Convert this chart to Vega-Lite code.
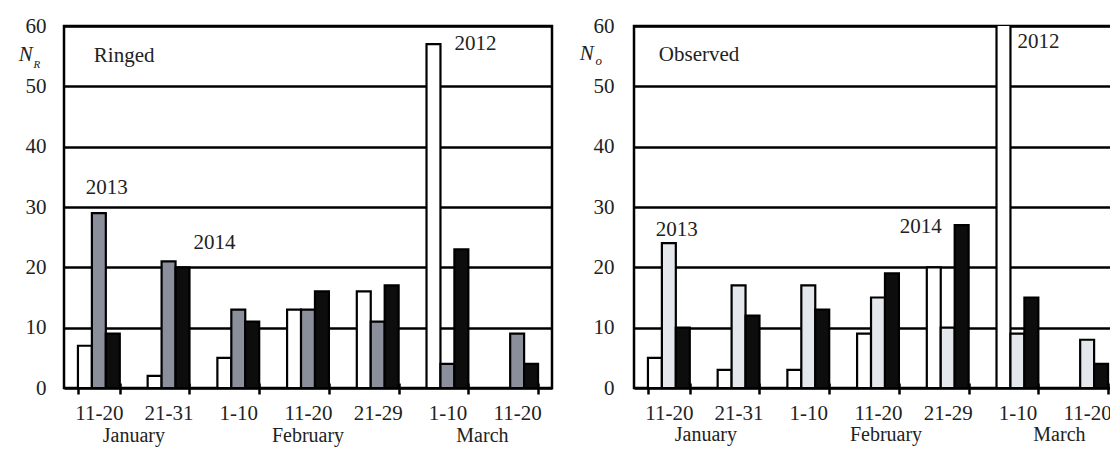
{
  "$schema": "https://vega.github.io/schema/vega-lite/v6.json",
  "background": "#ffffff",
  "padding": {"left": 17, "top": 13, "right": 0, "bottom": 0},
  "bounds": "flush",
  "spacing": 82,
  "config": {
    "view": {"stroke": "#000000", "strokeWidth": 2.5},
    "text": {"font": "Liberation Serif", "fontSize": 21, "fontWeight": "normal", "fill": "#222222"}
  },
  "datasets": {
    "counts": [
      {"panel": "Ringed", "period": "Jan 11-20", "year": 2012, "n": 7},
      {"panel": "Ringed", "period": "Jan 11-20", "year": 2013, "n": 29},
      {"panel": "Ringed", "period": "Jan 11-20", "year": 2014, "n": 9},
      {"panel": "Ringed", "period": "Jan 21-31", "year": 2012, "n": 2},
      {"panel": "Ringed", "period": "Jan 21-31", "year": 2013, "n": 21},
      {"panel": "Ringed", "period": "Jan 21-31", "year": 2014, "n": 20},
      {"panel": "Ringed", "period": "Feb 1-10", "year": 2012, "n": 5},
      {"panel": "Ringed", "period": "Feb 1-10", "year": 2013, "n": 13},
      {"panel": "Ringed", "period": "Feb 1-10", "year": 2014, "n": 11},
      {"panel": "Ringed", "period": "Feb 11-20", "year": 2012, "n": 13},
      {"panel": "Ringed", "period": "Feb 11-20", "year": 2013, "n": 13},
      {"panel": "Ringed", "period": "Feb 11-20", "year": 2014, "n": 16},
      {"panel": "Ringed", "period": "Feb 21-29", "year": 2012, "n": 16},
      {"panel": "Ringed", "period": "Feb 21-29", "year": 2013, "n": 11},
      {"panel": "Ringed", "period": "Feb 21-29", "year": 2014, "n": 17},
      {"panel": "Ringed", "period": "Mar 1-10", "year": 2012, "n": 57},
      {"panel": "Ringed", "period": "Mar 1-10", "year": 2013, "n": 4},
      {"panel": "Ringed", "period": "Mar 1-10", "year": 2014, "n": 23},
      {"panel": "Ringed", "period": "Mar 11-20", "year": 2012, "n": 0},
      {"panel": "Ringed", "period": "Mar 11-20", "year": 2013, "n": 9},
      {"panel": "Ringed", "period": "Mar 11-20", "year": 2014, "n": 4},
      {"panel": "Observed", "period": "Jan 11-20", "year": 2012, "n": 5},
      {"panel": "Observed", "period": "Jan 11-20", "year": 2013, "n": 24},
      {"panel": "Observed", "period": "Jan 11-20", "year": 2014, "n": 10},
      {"panel": "Observed", "period": "Jan 21-31", "year": 2012, "n": 3},
      {"panel": "Observed", "period": "Jan 21-31", "year": 2013, "n": 17},
      {"panel": "Observed", "period": "Jan 21-31", "year": 2014, "n": 12},
      {"panel": "Observed", "period": "Feb 1-10", "year": 2012, "n": 3},
      {"panel": "Observed", "period": "Feb 1-10", "year": 2013, "n": 17},
      {"panel": "Observed", "period": "Feb 1-10", "year": 2014, "n": 13},
      {"panel": "Observed", "period": "Feb 11-20", "year": 2012, "n": 9},
      {"panel": "Observed", "period": "Feb 11-20", "year": 2013, "n": 15},
      {"panel": "Observed", "period": "Feb 11-20", "year": 2014, "n": 19},
      {"panel": "Observed", "period": "Feb 21-29", "year": 2012, "n": 20},
      {"panel": "Observed", "period": "Feb 21-29", "year": 2013, "n": 10},
      {"panel": "Observed", "period": "Feb 21-29", "year": 2014, "n": 27},
      {"panel": "Observed", "period": "Mar 1-10", "year": 2012, "n": 75},
      {"panel": "Observed", "period": "Mar 1-10", "year": 2013, "n": 9},
      {"panel": "Observed", "period": "Mar 1-10", "year": 2014, "n": 15},
      {"panel": "Observed", "period": "Mar 11-20", "year": 2012, "n": 0},
      {"panel": "Observed", "period": "Mar 11-20", "year": 2013, "n": 8},
      {"panel": "Observed", "period": "Mar 11-20", "year": 2014, "n": 4}
    ]
  },
  "resolve": {"scale": {"color": "independent"}},
  "hconcat": [
    {
      "width": 488,
      "height": 362,
      "layer": [
        {
          "data": {"name": "counts"},
          "transform": [{"filter": "datum.panel === 'Ringed'"}],
          "mark": {"type": "bar", "stroke": "#000000", "strokeWidth": 2.2, "clip": true},
          "encoding": {
            "x": {
              "field": "period", "type": "nominal",
              "sort": ["Jan 11-20", "Jan 21-31", "Feb 1-10", "Feb 11-20", "Feb 21-29", "Mar 1-10", "Mar 11-20"],
              "scale": {"paddingInner": 0.4, "paddingOuter": 0.2},
              "axis": {
                "title": null, "labelAngle": 0,
                "labelExpr": "split(datum.label, ' ')[1]",
                "tickBand": "extent", "offset": -5, "domain": false,
                "tickColor": "#000000", "tickWidth": 2.5, "tickSize": 11,
                "labelFont": "Liberation Serif", "labelFontSize": 21, "labelColor": "#222222",
                "labelPadding": 8
              }
            },
            "y": {
              "field": "n", "type": "quantitative",
              "scale": {"domain": [0, 60], "nice": false},
              "axis": {
                "title": null, "offset": -5, "domain": false,
                "values": [0, 5, 10, 15, 20, 25, 30, 35, 40, 45, 50, 55, 60],
                "labelExpr": "datum.value % 10 === 0 ? datum.label : ''",
                "grid": true, "gridColor": "#000000", "gridWidth": 2.5,
                "gridOpacity": {"condition": {"test": "datum.value % 10 === 0", "value": 1}, "value": 0},
                "tickColor": "#000000", "tickWidth": 2.5,
                "tickSize": {"condition": {"test": "datum.value % 10 === 0", "value": 0}, "value": 5},
                "labelFont": "Liberation Serif", "labelFontSize": 21, "labelColor": "#222222",
                "labelPadding": 23
              }
            },
            "xOffset": {"field": "year", "type": "nominal", "scale": {"paddingInner": 0, "paddingOuter": 0}},
            "color": {
              "field": "year", "type": "nominal", "legend": null,
              "scale": {"domain": [2012, 2013, 2014], "range": ["#ffffff", "#8b8e9b", "#0d0d0d"]}
            },
            "fillOpacity": {"value": 1}
          }
        },
        {"data": {"values": [{"label": "Ringed"}]}, "mark": {"type": "text", "align": "left", "dx": -5},
         "encoding": {"x": {"datum": "Jan 11-20"}, "y": {"datum": 55}, "text": {"field": "label"}}},
        {"data": {"values": [{"label": "2013"}]}, "mark": {"type": "text", "dx": 8},
         "encoding": {"x": {"datum": "Jan 11-20"}, "y": {"datum": 33.2}, "text": {"field": "label"}}},
        {"data": {"values": [{"label": "2014"}]}, "mark": {"type": "text", "dx": 46},
         "encoding": {"x": {"datum": "Jan 21-31"}, "y": {"datum": 24}, "text": {"field": "label"}}},
        {"data": {"values": [{"label": "2012"}]}, "mark": {"type": "text", "align": "left", "dx": 7},
         "encoding": {"x": {"datum": "Mar 1-10"}, "y": {"datum": 57}, "text": {"field": "label"}}},
        {"data": {"values": [{"label": "N"}]}, "mark": {"type": "text", "dx": -73, "fontStyle": "italic", "fontSize": 21},
         "encoding": {"x": {"datum": "Jan 11-20"}, "y": {"datum": 55.2}, "text": {"field": "label"}}},
        {"data": {"values": [{"label": "R"}]}, "mark": {"type": "text", "dx": -62, "fontStyle": "italic", "fontSize": 11},
         "encoding": {"x": {"datum": "Jan 11-20"}, "y": {"datum": 53.5}, "text": {"field": "label"}}},
        {"data": {"values": [{"label": "January"}]}, "mark": {"type": "text", "dx": 35, "dy": 48, "fontSize": 20},
         "encoding": {"x": {"datum": "Jan 11-20"}, "y": {"datum": 0}, "text": {"field": "label"}}},
        {"data": {"values": [{"label": "February"}]}, "mark": {"type": "text", "dy": 48, "fontSize": 20},
         "encoding": {"x": {"datum": "Feb 11-20"}, "y": {"datum": 0}, "text": {"field": "label"}}},
        {"data": {"values": [{"label": "March"}]}, "mark": {"type": "text", "dx": 35, "dy": 48, "fontSize": 20},
         "encoding": {"x": {"datum": "Mar 1-10"}, "y": {"datum": 0}, "text": {"field": "label"}}}
      ]
    },
    {
      "width": 488,
      "height": 362,
      "layer": [
        {
          "data": {"name": "counts"},
          "transform": [{"filter": "datum.panel === 'Observed'"}],
          "mark": {"type": "bar", "stroke": "#000000", "strokeWidth": 2.2, "clip": true},
          "encoding": {
            "x": {
              "field": "period", "type": "nominal",
              "sort": ["Jan 11-20", "Jan 21-31", "Feb 1-10", "Feb 11-20", "Feb 21-29", "Mar 1-10", "Mar 11-20"],
              "scale": {"paddingInner": 0.4, "paddingOuter": 0.2},
              "axis": {
                "title": null, "labelAngle": 0,
                "labelExpr": "split(datum.label, ' ')[1]",
                "tickBand": "extent", "offset": -5, "domain": false,
                "tickColor": "#000000", "tickWidth": 2.5, "tickSize": 11,
                "labelFont": "Liberation Serif", "labelFontSize": 21, "labelColor": "#222222",
                "labelPadding": 8
              }
            },
            "y": {
              "field": "n", "type": "quantitative",
              "scale": {"domain": [0, 60], "nice": false},
              "axis": {
                "title": null, "offset": -5, "domain": false,
                "values": [0, 5, 10, 15, 20, 25, 30, 35, 40, 45, 50, 55, 60],
                "labelExpr": "datum.value % 10 === 0 ? datum.label : ''",
                "grid": true, "gridColor": "#000000", "gridWidth": 2.5,
                "gridOpacity": {"condition": {"test": "datum.value % 10 === 0", "value": 1}, "value": 0},
                "tickColor": "#000000", "tickWidth": 2.5,
                "tickSize": {"condition": {"test": "datum.value % 10 === 0", "value": 0}, "value": 5},
                "labelFont": "Liberation Serif", "labelFontSize": 21, "labelColor": "#222222",
                "labelPadding": 25
              }
            },
            "xOffset": {"field": "year", "type": "nominal", "scale": {"paddingInner": 0, "paddingOuter": 0}},
            "color": {
              "field": "year", "type": "nominal", "legend": null,
              "scale": {"domain": [2012, 2013, 2014], "range": ["#ffffff", "#e4e7eb", "#0d0d0d"]}
            },
            "fillOpacity": {"value": 1}
          }
        },
        {"data": {"values": [{"label": "Observed"}]}, "mark": {"type": "text", "align": "left", "dx": -10},
         "encoding": {"x": {"datum": "Jan 11-20"}, "y": {"datum": 55.2}, "text": {"field": "label"}}},
        {"data": {"values": [{"label": "2013"}]}, "mark": {"type": "text", "dx": 8},
         "encoding": {"x": {"datum": "Jan 11-20"}, "y": {"datum": 26.2}, "text": {"field": "label"}}},
        {"data": {"values": [{"label": "2014"}]}, "mark": {"type": "text", "dx": -27},
         "encoding": {"x": {"datum": "Feb 21-29"}, "y": {"datum": 26.7}, "text": {"field": "label"}}},
        {"data": {"values": [{"label": "2012"}]}, "mark": {"type": "text", "align": "left", "dx": 0},
         "encoding": {"x": {"datum": "Mar 1-10"}, "y": {"datum": 57.4}, "text": {"field": "label"}}},
        {"data": {"values": [{"label": "N"}]}, "mark": {"type": "text", "dx": -82, "fontStyle": "italic", "fontSize": 21},
         "encoding": {"x": {"datum": "Jan 11-20"}, "y": {"datum": 55.4}, "text": {"field": "label"}}},
        {"data": {"values": [{"label": "o"}]}, "mark": {"type": "text", "dx": -70, "fontStyle": "italic", "fontSize": 13},
         "encoding": {"x": {"datum": "Jan 11-20"}, "y": {"datum": 54.2}, "text": {"field": "label"}}},
        {"data": {"values": [{"label": "January"}]}, "mark": {"type": "text", "dx": 37, "dy": 47, "fontSize": 20},
         "encoding": {"x": {"datum": "Jan 11-20"}, "y": {"datum": 0}, "text": {"field": "label"}}},
        {"data": {"values": [{"label": "February"}]}, "mark": {"type": "text", "dx": 8, "dy": 47, "fontSize": 20},
         "encoding": {"x": {"datum": "Feb 11-20"}, "y": {"datum": 0}, "text": {"field": "label"}}},
        {"data": {"values": [{"label": "March"}]}, "mark": {"type": "text", "dx": 42, "dy": 47, "fontSize": 20},
         "encoding": {"x": {"datum": "Mar 1-10"}, "y": {"datum": 0}, "text": {"field": "label"}}}
      ]
    }
  ]
}
